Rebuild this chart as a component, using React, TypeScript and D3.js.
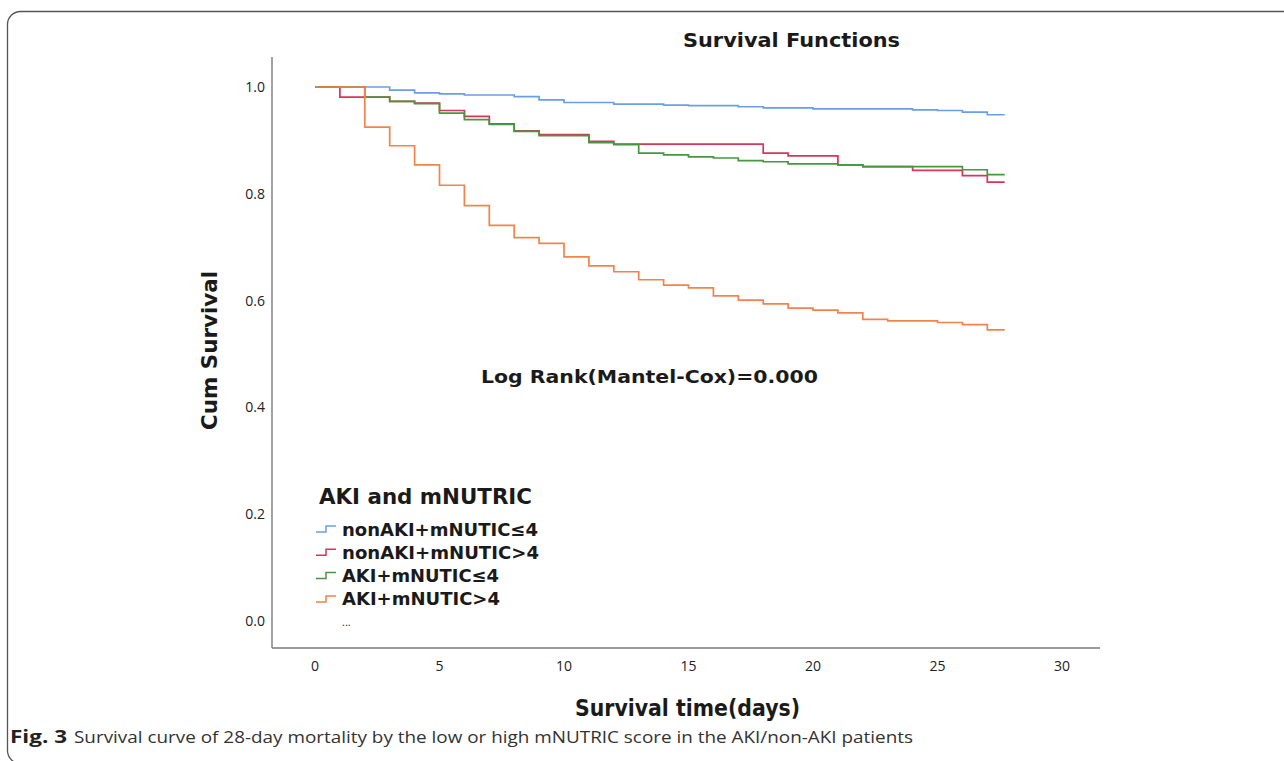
import React from "react";
import * as d3 from "d3";

// ---- Data ----
const seriesNames = ["nonAKI+mNUTIC≤4", "nonAKI+mNUTIC>4", "AKI+mNUTIC≤4", "AKI+mNUTIC>4"];
const seriesColors = ["#6a9fe6", "#d7355a", "#45983f", "#f2834c"];

const nonAkiLowDays = [0, 3, 4, 5, 6, 8, 9, 10, 12, 14, 15, 17, 18, 20, 24, 25, 26, 27];
const nonAkiLowSurv = [1, 0.994, 0.989, 0.987, 0.985, 0.982, 0.976, 0.971, 0.968, 0.966, 0.965, 0.963, 0.961, 0.959, 0.957, 0.956, 0.953, 0.948];

const nonAkiHighDays = [0, 1, 3, 4, 5, 6, 7, 8, 9, 11, 12, 18, 19, 21, 22, 24, 26, 27];
const nonAkiHighSurv = [1, 0.981, 0.973, 0.970, 0.956, 0.945, 0.931, 0.918, 0.911, 0.898, 0.893, 0.876, 0.871, 0.854, 0.851, 0.844, 0.834, 0.822];

const akiLowDays = [0, 2, 3, 4, 5, 6, 7, 8, 9, 11, 12, 13, 14, 15, 16, 17, 18, 19, 21, 22, 26, 27];
const akiLowSurv = [1, 0.981, 0.973, 0.969, 0.951, 0.939, 0.930, 0.917, 0.909, 0.896, 0.892, 0.876, 0.873, 0.869, 0.867, 0.862, 0.860, 0.856, 0.854, 0.851, 0.845, 0.836];

const akiHighDays = [0, 2, 3, 4, 5, 6, 7, 8, 9, 10, 11, 12, 13, 14, 15, 16, 17, 18, 19, 20, 21, 22, 23, 25, 26, 27];
const akiHighSurv = [1, 0.925, 0.890, 0.854, 0.816, 0.778, 0.741, 0.718, 0.707, 0.682, 0.665, 0.654, 0.639, 0.629, 0.624, 0.609, 0.601, 0.594, 0.586, 0.582, 0.577, 0.565, 0.562, 0.559, 0.555, 0.545];

const followUpEnd = 27.7;

const xTicks = [0, 5, 10, 15, 20, 25, 30];
const yTicks = [0, 0.2, 0.4, 0.6, 0.8, 1.0];

const seriesDays = [nonAkiLowDays, nonAkiHighDays, akiLowDays, akiHighDays];
const seriesSurv = [nonAkiLowSurv, nonAkiHighSurv, akiLowSurv, akiHighSurv];

const FONT = "'Open Sans', 'DejaVu Sans', sans-serif";
const BOLD = "'DejaVu Sans', 'Open Sans', sans-serif";
const legendWidths = [196, 197, 157, 158];

export default function App() {
  const W = 1284, H = 761;
  const x = d3.scaleLinear().domain([0, 30]).range([315, 1062]);
  const y = d3.scaleLinear().domain([0, 1]).range([621, 87]);
  const xAxisStart = x.invert(272);
  const xAxisEnd = x.invert(1100);
  const yAxisTop = y.invert(57);
  const yAxisBottom = y.invert(648);

  const line = d3
    .line<[number, number]>()
    .x((d) => x(d[0]))
    .y((d) => y(d[1]))
    .curve(d3.curveStepAfter);

  const paths = seriesDays.map((days, i) => {
    const pts: [number, number][] = days.map((d, j) => [d, seriesSurv[i][j]]);
    pts.push([followUpEnd, seriesSurv[i][seriesSurv[i].length - 1]]);
    return line(pts) as string;
  });

  const legendX = 316;
  const legendY0 = 529;
  const legendDy = 23.3;

  return (
    <svg
      width={W}
      height={H}
      style={{ position: "absolute", left: 0, top: 0, background: "#fff" }}
      fontFamily={FONT}
    >
      <rect x={0} y={0} width={W} height={H} fill="#fff" />
      {/* frame */}
      <rect x={7.5} y={11.5} width={1300} height={752} rx={13} ry={13} fill="none" stroke="#555" strokeWidth={1.3} />

      {/* title */}
      <text x={683} y={47} fontFamily={BOLD} fontSize={19.5} fontWeight="bold" fill="#1a1a1a"
        textLength={217} lengthAdjust="spacingAndGlyphs">
        Survival Functions
      </text>

      {/* axes */}
      <line x1={x(xAxisStart)} x2={x(xAxisStart)} y1={y(yAxisTop)} y2={y(yAxisBottom)} stroke="#7a7a7a" strokeWidth={1.4} />
      <line x1={x(xAxisStart)} x2={x(xAxisEnd)} y1={y(yAxisBottom)} y2={y(yAxisBottom)} stroke="#7a7a7a" strokeWidth={1.4} />

      {yTicks.map((t) => (
        <text key={"y" + t} x={265} y={y(t) + 5} textAnchor="end" fontSize={14} fill="#222">
          {t.toFixed(1)}
        </text>
      ))}
      {xTicks.map((t) => (
        <text key={"x" + t} x={x(t)} y={671} textAnchor="middle" fontSize={14} fill="#222">
          {t}
        </text>
      ))}

      <text
        transform="translate(217,430) rotate(-90)"
        fontFamily={BOLD}
        fontSize={22}
        fontWeight="bold"
        fill="#1a1a1a"
        textLength={159}
        lengthAdjust="spacingAndGlyphs"
      >
        Cum Survival
      </text>
      <text x={575} y={716} fontFamily={BOLD} fontSize={23} fontWeight="bold" fill="#1a1a1a"
        textLength={225} lengthAdjust="spacingAndGlyphs">
        Survival time(days)
      </text>

      {/* curves */}
      {paths.map((p, i) => (
        <path key={i} d={p} fill="none" stroke={seriesColors[i]} strokeWidth={1.7} />
      ))}

      <text x={481} y={383} fontFamily={BOLD} fontSize={18.5} fontWeight="bold" fill="#1a1a1a"
        textLength={337} lengthAdjust="spacingAndGlyphs">
        Log Rank(Mantel-Cox)=0.000
      </text>

      {/* legend */}
      <text x={319} y={504} fontFamily={BOLD} fontSize={21.5} fontWeight="bold" fill="#1a1a1a"
        textLength={213} lengthAdjust="spacingAndGlyphs">
        AKI and mNUTRIC
      </text>
      {seriesNames.map((n, i) => {
        const cy = legendY0 + i * legendDy;
        return (
          <g key={n}>
            <path
              d={`M${legendX},${cy + 3}H${legendX + 10}V${cy - 3}H${legendX + 20}`}
              fill="none"
              stroke={seriesColors[i]}
              strokeWidth={1.5}
            />
            <text x={legendX + 26} y={cy + 6.5} fontFamily={BOLD} fontSize={18} fontWeight="bold" fill="#1a1a1a"
              textLength={legendWidths[i]} lengthAdjust="spacingAndGlyphs">
              {n}
            </text>
          </g>
        );
      })}
      <text x={342} y={626} fontSize={11} fill="#333">
        ...
      </text>

      {/* caption */}
      <text x={10} y={743} fontSize={17.5} fontWeight="bold" fill="#222" textLength={57} lengthAdjust="spacingAndGlyphs">
        Fig. 3
      </text>
      <text x={74} y={743} fontSize={17} fill="#333" textLength={839} lengthAdjust="spacingAndGlyphs">
        Survival curve of 28-day mortality by the low or high mNUTRIC score in the AKI/non-AKI patients
      </text>
    </svg>
  );
}
